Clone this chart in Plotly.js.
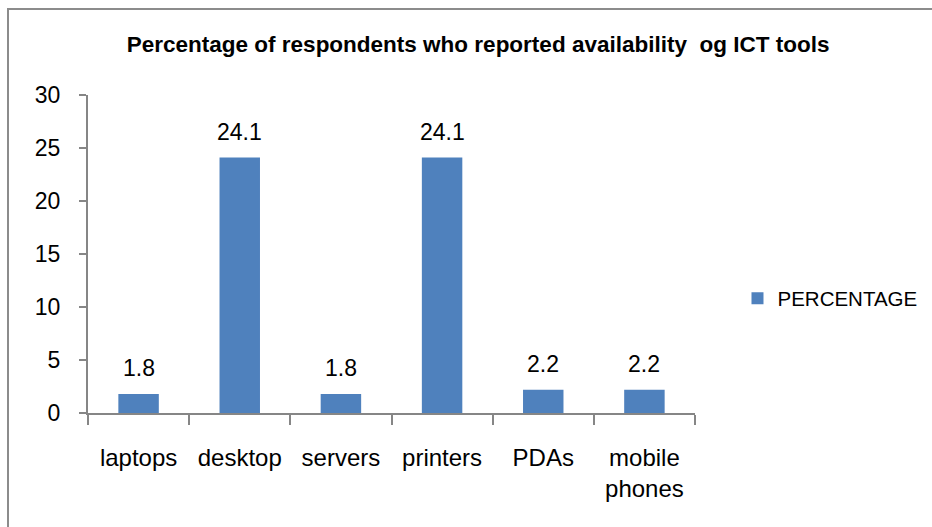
<!DOCTYPE html>
<html>
<head>
<meta charset="utf-8">
<script src="https://cdn.plot.ly/plotly-3.0.1.min.js"></script>
<style>
  html, body { margin: 0; padding: 0; background: #fff; }
  #wrap { position: relative; width: 932px; height: 527px; overflow: hidden; }
  #chart { position: absolute; left: 0; top: 0; width: 932px; height: 527px; }
  #frame { position: absolute; left: 7px; top: 8px; width: 1000px; height: 600px;
           border-left: 2px solid #8c8c8c; border-top: 2px solid #8c8c8c; pointer-events: none; }
</style>
</head>
<body>
<div id="wrap">
  <div id="chart"></div>
  <div id="frame"></div>
</div>
<script>
const categories = ["laptops", "desktop", "servers", "printers", "PDAs", "mobile<br>phones"];
const percentage = [1.8, 24.1, 1.8, 24.1, 2.2, 2.2];
const seriesName = "PERCENTAGE";
const chartTitle = "Percentage of respondents who reported availability  og ICT tools";
const yTicks = [0, 5, 10, 15, 20, 25, 30];

const font = "Liberation Sans, Arial, sans-serif";
const axisColor = "#868686";

const trace = {
  type: "bar",
  x: categories,
  y: percentage,
  name: seriesName,
  marker: { color: "#4F81BD" },
  showlegend: true,
  hoverinfo: "none"
};

const annotations = categories.map((c, i) => ({
  x: c, y: percentage[i], xref: "x", yref: "y",
  text: String(percentage[i]),
  showarrow: false, yanchor: "bottom", yshift: 11,
  font: { family: font, size: 23, color: "#000" }
}));

const layout = {
  width: 932, height: 527,
  margin: { l: 88, r: 237, t: 95, b: 114, autoexpand: false },
  paper_bgcolor: "#fff", plot_bgcolor: "#fff",
  title: {
    text: "<b>" + chartTitle + "</b>",
    font: { family: font, size: 22.5, color: "#000" },
    x: 0.513, xanchor: "center", y: 0.917, yanchor: "middle"
  },
  bargap: 0.6,
  xaxis: {
    type: "category",
    showline: true, linecolor: axisColor, linewidth: 2,
    ticks: "outside", tickson: "boundaries", ticklen: 10, tickcolor: axisColor, tickwidth: 2,
    tickfont: { family: font, size: 24, color: "#000" },
    ticklabelstandoff: 22,
    showgrid: false, zeroline: false, fixedrange: true, automargin: false
  },
  yaxis: {
    range: [0, 30],
    tickvals: yTicks,
    showline: true, linecolor: axisColor, linewidth: 2,
    ticks: "outside", ticklen: 7, tickcolor: axisColor, tickwidth: 2,
    tickfont: { family: font, size: 23, color: "#000" },
    ticklabelstandoff: 14,
    showgrid: false, zeroline: false, fixedrange: true, automargin: false
  },
  legend: {
    x: 1.07, xanchor: "left", y: 0.36, yanchor: "middle",
    font: { family: font, size: 20.5, color: "#000" },
    itemwidth: 30, bgcolor: "rgba(0,0,0,0)"
  },
  annotations: annotations
};

Plotly.newPlot("chart", [trace], layout, { staticPlot: true, displayModeBar: false });
</script>
</body>
</html>
